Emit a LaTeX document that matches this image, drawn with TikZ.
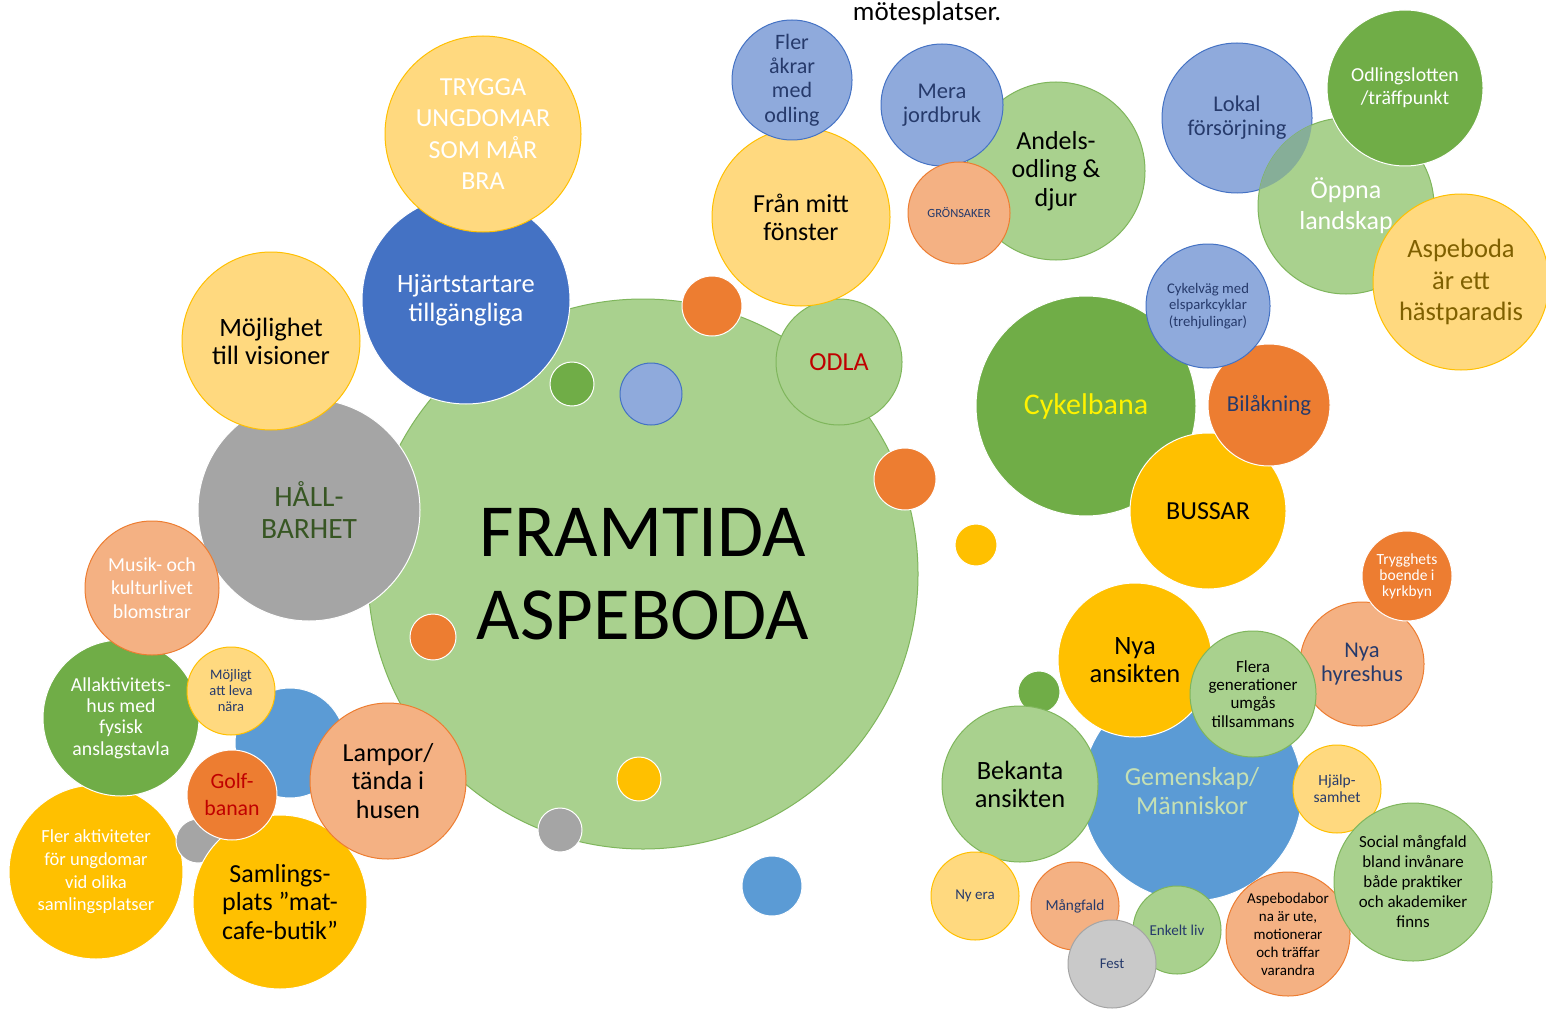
\documentclass[tikz,border=0pt]{standalone}
\usepackage{fontspec}
\setmainfont{Carlito}
\definecolor{lgreen}{HTML}{A9D18E}
\definecolor{lgreenD}{HTML}{7FB65C}
\definecolor{lyellow}{HTML}{FFD97F}
\definecolor{goldA}{HTML}{FFC000}
\definecolor{blueA}{HTML}{4472C4}
\definecolor{blueB}{HTML}{5B9BD5}
\definecolor{peri}{HTML}{8FAADC}
\definecolor{grayA}{HTML}{A5A5A5}
\definecolor{lgrayA}{HTML}{C9C9C9}
\definecolor{salmon}{HTML}{F4B183}
\definecolor{orangeA}{HTML}{ED7D31}
\definecolor{greenA}{HTML}{70AD47}
\definecolor{navyT}{HTML}{263A6B}
\definecolor{dgreenT}{HTML}{375623}
\definecolor{brownT}{HTML}{7F6000}
\definecolor{redT}{HTML}{C00000}
\definecolor{paleT}{HTML}{C5E0B4}
\definecolor{tealO}{HTML}{86AE98}
\newcommand\fsz[2]{\fontsize{#1}{#2}\selectfont}
\tikzset{
  bub/.style={circle, inner sep=0pt, align=center, line width=1pt, minimum size=#1},
  lg/.style={bub=#1, fill=lgreen, draw=lgreenD},
  ly/.style={bub=#1, fill=lyellow, draw=goldA},
  go/.style={bub=#1, fill=goldA, draw=white},
  bla/.style={bub=#1, fill=blueA, draw=white},
  blb/.style={bub=#1, fill=blueB, draw=white},
  pw/.style={bub=#1, fill=peri, draw=blueA},
  gy/.style={bub=#1, fill=grayA, draw=white},
  lgy/.style={bub=#1, fill=lgrayA, draw=grayA},
  sa/.style={bub=#1, fill=salmon, draw=orangeA},
  orr/.style={bub=#1, fill=orangeA, draw=white},
  gn/.style={bub=#1, fill=greenA, draw=white},
  txt/.style={inner sep=0pt, align=center}
}
\begin{document}
\begin{tikzpicture}[x=1pt,y=-1pt]
\useasboundingbox (0,0) rectangle (1546,1011);
\fill[white] (0,0) rectangle (1546,1011);

% main bubble
\node[lg=550, font=\fsz{75}{83}] (main) at (643,574) {FRAMTIDA\\ASPEBODA};
\node[gn=44] (d1) at (572,384) {};
\node[pw=62] (d2) at (651,394) {};
\node[orr=46] (d3) at (433,637) {};
\node[go=44] (d4) at (639,779) {};
\node[gy=44] (d5) at (560,830) {};
\node[orr=62] (d6) at (905,479) {};

% left cluster
\node[bla=208, text=white, font=\fsz{26.5}{29}] (hjart) at (466,300) {Hjärtstartare\\tillgängliga};
\node[ly=196, text=white, font=\fsz{26}{31.5}] (trygga) at (483,134) {TRYGGA\\UNGDOMAR\\SOM MÅR\\BRA};
\node[gy=222, text=dgreenT, font=\fsz{29.5}{32}] (hall) at (309,510) {HÅLL-\\BARHET};
\node[ly=178, font=\fsz{26.5}{28}] (mojlighet) at (271,341) {Möjlighet\\till visioner};
\node[go=174, text=white, font=\fsz{18.5}{22.7}] (flerakt) at (96,872) {Fler aktiviteter\\för ungdomar\\vid olika\\samlingsplatser};
\node[gn=156, text=white, font=\fsz{19.8}{21.3}] (allakt) at (121,718) {Allaktivitets-\\hus med\\fysisk\\anslagstavla};
\node[sa=134, text=white, font=\fsz{19.8}{23.5}] (musik) at (152,588) {Musik- och\\kulturlivet\\blomstrar};
\node[blb=110] (bdot) at (290,743) {};
\node[ly=88, text=navyT, font=\fsz{14.5}{16}] (mojligt) at (231,691) {Möjligt\\att leva\\nära};
\node[gy=44] (gdot) at (198,841) {};
\node[go=174, font=\fsz{26}{28.5}] (samlings) at (280,902) {Samlings-\\plats ”mat-\\cafe-butik”};
\node[orr=90, text=redT, font=\fsz{21.8}{27}] (golf) at (232,795) {Golf-\\banan};
\node[sa=156, font=\fsz{26}{28.5}] (lampor) at (388,781) {Lampor/\\tända i\\husen};

% top middle cluster
\node[lg=126, text=redT, font=\fsz{26}{28}] (odla) at (839,362) {ODLA};
\node[ly=178, font=\fsz{26}{28}] (fran) at (801,217) {Från mitt\\fönster};
\node[orr=60] (d7) at (712,306) {};
\node[pw=120, text=navyT, font=\fsz{22}{24.3}] (flerakr) at (792,80) {Fler\\åkrar\\med\\odling};
\node[lg=178, font=\fsz{26}{28.5}] (andels) at (1056,171) {Andels-\\odling \&\\djur};
\node[pw=122, text=navyT, font=\fsz{22.5}{24}] (mera) at (942,105) {Mera\\jordbruk};
\node[sa=102, text=navyT, font=\fsz{12.5}{14}] (gron) at (959,213) {GRÖNSAKER};
\node[txt, font=\fsz{27}{30}] (motes) at (927,13) {mötesplatser.};

% top right cluster
\node[pw=150] (lokal) at (1237,118) {};
\node[lg=176] (oppna) at (1346,206) {};
\begin{scope}
  \clip (lokal.center) circle (75);
  \fill[tealO] (oppna.center) circle (88);
\end{scope}
\node[txt, text=navyT, font=\fsz{22.5}{24}] (lokalT) at (lokal.center) {Lokal\\försörjning};
\node[txt, text=white, font=\fsz{26}{31}] (oppnaT) at (oppna.center) {Öppna\\landskap};
\node[gn=156, text=white, font=\fsz{19.8}{23}] (odlingslott) at (1405,88) {Odlingslotten\\/träffpunkt};
\node[ly=176, text=brownT, font=\fsz{26.5}{31.5}] (hast) at (1461,282) {Aspeboda\\är ett\\hästparadis};

% middle right cluster
\node[gn=220, text=yellow, font=\fsz{30}{32}] (cykelbana) at (1086,406) {Cykelbana};
\node[go=156, font=\fsz{26}{28}] (bussar) at (1208,511) {BUSSAR};
\node[orr=122, text=navyT, font=\fsz{22.8}{24}] (bil) at (1269,405) {Bilåkning};
\node[pw=124, text=navyT, font=\fsz{14.7}{16.3}] (cykelvag) at (1208,306) {Cykelväg med\\elsparkcyklar\\(trehjulingar)};
\node[go=42] (d8) at (976,545) {};
\node[blb=60] (d9) at (772,886) {};
\node[gn=42] (d10) at (1039,692) {};

% bottom right cluster
\node[blb=220, text=paleT, font=\fsz{26}{29}] (gemenskap) at (1192,791) {Gemenskap/\\Människor};
\node[go=154, font=\fsz{26.5}{28}] (nyaans) at (1135,660) {Nya\\ansikten};
\node[sa=124, text=navyT, font=\fsz{22.5}{24}] (hyres) at (1362,664) {Nya\\hyreshus};
\node[orr=90, text=white, font=\fsz{15.5}{16}] (trygghets) at (1407,576) {Trygghets\\boende i\\kyrkbyn};
\node[lg=126, font=\fsz{17}{18.3}] (flera) at (1253,694) {Flera\\generationer\\umgås\\tillsammans};
\node[lg=156, font=\fsz{26.4}{28}] (bekanta) at (1020,784) {Bekanta\\ansikten};
\node[ly=88, text=navyT, font=\fsz{15.5}{17}] (hjalp) at (1337,789) {Hjälp-\\samhet};
\node[sa=124, font=\fsz{15}{18}] (aspebodabor) at (1288,934) {Aspebodabor\\na är ute,\\motionerar\\och träffar\\varandra};
\node[lg=158, font=\fsz{16.9}{20}] (social) at (1413,882) {Social mångfald\\bland invånare\\både praktiker\\och akademiker\\finns};
\node[ly=88, text=navyT, font=\fsz{15}{16}] (nyera) at (975,896) {Ny era};
\node[sa=88, text=navyT, font=\fsz{15.3}{17}] (mangfald) at (1075,906) {Mångfald};
\node[lg=88, text=navyT, font=\fsz{15.1}{17}] (enkelt) at (1177,930) {Enkelt liv};
\node[lgy=88, text=navyT, font=\fsz{14.8}{16}] (fest) at (1112,964) {Fest};
\end{tikzpicture}
\end{document}
